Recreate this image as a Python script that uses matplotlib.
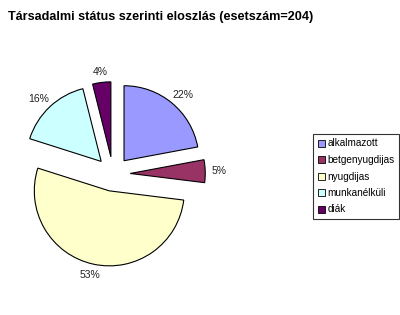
import numpy as np
import matplotlib.pyplot as plt

# Data: counts per status (total 204)
categories = ['alkalmazott', 'betgenyugdijas', 'nyugdijas', 'munkanélküli', 'diák']
counts = [45, 10, 108, 33, 8]
colors = ['#9999FF', '#993366', '#FFFFCC', '#CCFFFF', '#660066']

plt.rcParams['font.family'] = ['Liberation Sans', 'DejaVu Sans']

fig = plt.figure(figsize=(4.0, 3.15), dpi=100)
fig.patch.set_facecolor('white')

# Axes covering whole figure, 75 px per data unit, pie centre at (113, 174) px
ax = fig.add_axes([0, 0, 1, 1])
cx, cy, r = 113, 174, 75
explode = 0.23
wedges, texts, autotexts = ax.pie(
    counts, colors=colors, startangle=90, counterclock=False,
    explode=[explode] * len(counts), autopct='%.0f%%',
    wedgeprops=dict(edgecolor='black', linewidth=0.8),
    textprops=dict(fontsize=7.5, color='#222222'))
ax.set_xlim(-cx / r, (400 - cx) / r)
ax.set_ylim(-(315 - cy) / r, cy / r)
ax.set_aspect('auto')
ax.axis('off')

# Place percentage labels just outside each wedge, Excel style
renderer = fig.canvas.get_renderer()
gap = 6 / r
for w, t in zip(wedges, autotexts):
    ang = np.deg2rad((w.theta1 + w.theta2) / 2)
    dx, dy = np.cos(ang), np.sin(ang)
    bb = t.get_window_extent(renderer)
    hw, hh = bb.width / 2 / r, bb.height / 2 / r
    d = 1 + explode + gap
    t.set_position((d * dx + hw * dx, d * dy + hh * dy))
    t.set_ha('center')
    t.set_va('center')

fig.text(8 / 400, 1 - 17 / 315, 'Társadalmi státus szerinti eloszlás (esetszám=204)',
         fontsize=9.1, fontweight='bold', va='center', ha='left')

leg = fig.legend(wedges, categories, loc='upper left',
                 bbox_to_anchor=(313 / 400, 1 - 134 / 315),
                 fontsize=7.2, frameon=True, fancybox=False,
                 handlelength=0.7, handleheight=0.7, handletextpad=0.3,
                 labelspacing=0.65, borderpad=0.45, borderaxespad=0)
leg.get_frame().set_edgecolor('black')
leg.get_frame().set_linewidth(0.8)
for h in leg.legend_handles:
    h.set_linewidth(0.6)

fig.savefig('out.png', dpi=100)
